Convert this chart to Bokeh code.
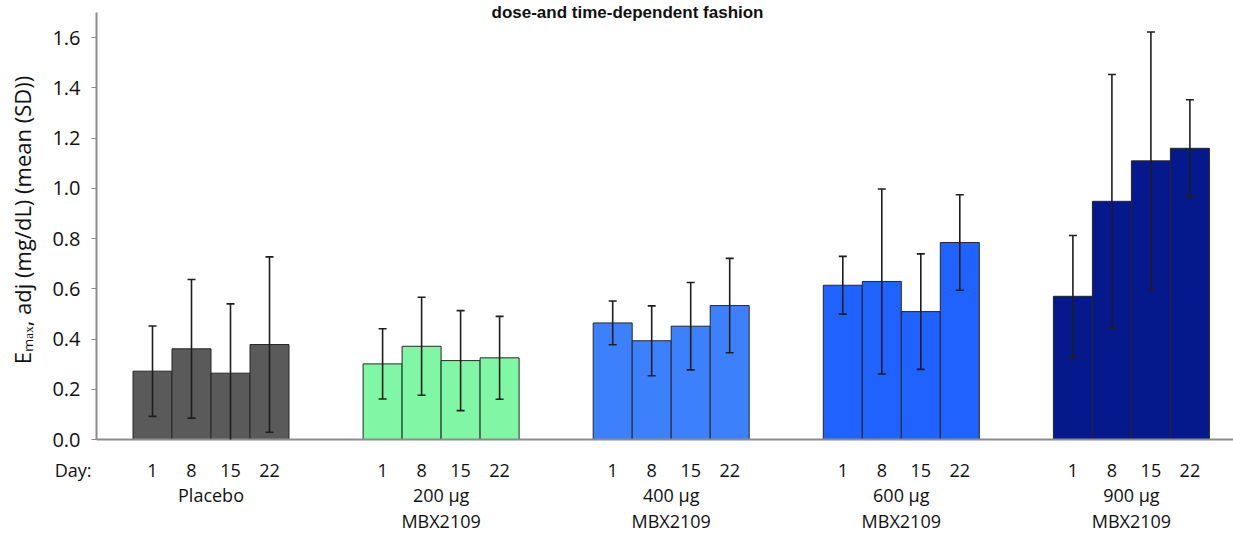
from bokeh.plotting import figure
from bokeh.models import (ColumnDataSource, FixedTicker, LinearAxis, Whisker, TeeHead,
                          Label, Range1d, PrintfTickFormatter)
from bokeh.embed import file_html
from bokeh.resources import INLINE

# ---------------- data ----------------
groups = ["Placebo", "200 µg", "400 µg", "600 µg", "900 µg"]
group_line2 = ["", "MBX2109", "MBX2109", "MBX2109", "MBX2109"]
days = [1, 8, 15, 22]
group_colors = ["#5a5a5a", "#80f7a5", "#3d80fb", "#1f62fe", "#06198c"]

placebo_mean = [0.272, 0.361, 0.264, 0.378]
placebo_sd = [0.180, 0.276, 0.276, 0.349]
d200_mean = [0.301, 0.371, 0.314, 0.325]
d200_sd = [0.140, 0.195, 0.199, 0.165]
d400_mean = [0.464, 0.393, 0.451, 0.533]
d400_sd = [0.087, 0.139, 0.174, 0.188]
d600_mean = [0.614, 0.629, 0.509, 0.784]
d600_sd = [0.115, 0.368, 0.230, 0.190]
d900_mean = [0.570, 0.948, 1.109, 1.159]
d900_sd = [0.242, 0.505, 0.513, 0.193]

title_text = "dose-and time-dependent fashion"
day_prefix = "Day:"
y_label = "Eₘₐₓ, adj (mg/dL) (mean (SD))"
y_ticks = [0.0, 0.2, 0.4, 0.6, 0.8, 1.0, 1.2, 1.4, 1.6]

# ---------------- layout helpers ----------------
BAR_W = 10          # bar width in x units
STRIDE = 59         # distance between groups in x units
X_START, X_END = -14.36, 277.18
Y_END = 1.7473      # frame reaches the top edge of the canvas
Y_AXIS_TOP = 1.70   # y axis line stops here
means = [placebo_mean, d200_mean, d400_mean, d600_mean, d900_mean]
sds = [placebo_sd, d200_sd, d400_sd, d600_sd, d900_sd]

xs, tops, lows, ups, cols, day_lab = [], [], [], [], [], []
for g in range(len(groups)):
    for d in range(len(days)):
        x = g * STRIDE + d * BAR_W
        m, s = means[g][d], sds[g][d]
        xs.append(x)
        tops.append(m)
        lows.append(m - s)
        ups.append(m + s)
        cols.append(group_colors[g])
        day_lab.append(str(days[d]))

src = ColumnDataSource(dict(x=xs, top=tops, lower=lows, upper=ups, color=cols))
group_centers = [g * STRIDE + 15 for g in range(len(groups))]

FONT = "Open Sans"
TXT = "#111111"
AXIS_GREY = "#8c8c8c"

p = figure(width=1233, height=536, output_backend="svg", toolbar_location=None,
           x_range=Range1d(X_START, X_END), y_range=Range1d(0, Y_END),
           min_border_left=96, min_border_right=0, min_border_top=0, min_border_bottom=97,
           x_axis_location=None)
p.outline_line_color = None
p.xgrid.grid_line_color = None
p.ygrid.grid_line_color = None
p.background_fill_color = "white"
p.border_fill_color = "white"

p.vbar(x="x", top="top", width=BAR_W, bottom=0, source=src, fill_color="color",
       line_color="#262626", line_width=1)

wh = Whisker(base="x", upper="upper", lower="lower", source=src,
             line_color="#1e1e1e", line_width=1.6, level="annotation",
             upper_head=TeeHead(size=8, line_color="#1e1e1e", line_width=1.6),
             lower_head=TeeHead(size=8, line_color="#1e1e1e", line_width=1.6))
p.add_layout(wh)

# y axis
ya = p.yaxis[0]
ya.ticker = FixedTicker(ticks=y_ticks)
ya.bounds = (0, Y_AXIS_TOP)
ya.formatter = PrintfTickFormatter(format="%.1f")
ya.minor_tick_line_color = None
ya.major_tick_in = 0
ya.major_tick_out = 5
ya.major_tick_line_color = AXIS_GREY
ya.axis_line_color = AXIS_GREY
ya.axis_line_width = 2
ya.major_label_text_font = FONT
ya.major_label_text_font_size = "20px"
ya.major_label_text_color = TXT
ya.major_label_standoff = 11
ya.axis_label = y_label
ya.axis_label_text_font = FONT
ya.axis_label_text_font_size = "22px"
ya.axis_label_text_font_style = "normal"
ya.axis_label_text_color = TXT
ya.axis_label_standoff = 12

def make_xaxis(ticks, labels, line, standoff):
    ax = LinearAxis(ticker=FixedTicker(ticks=ticks),
                    major_label_overrides={t: l for t, l in zip(ticks, labels)})
    ax.major_tick_line_color = None
    ax.minor_tick_line_color = None
    ax.major_tick_out = 0
    ax.major_tick_in = 0
    ax.major_label_standoff = standoff
    ax.major_label_text_font = FONT
    ax.major_label_text_font_size = "18px"
    ax.major_label_text_color = TXT
    if line:
        ax.axis_line_color = AXIS_GREY
        ax.axis_line_width = 2
    else:
        ax.axis_line_color = None
    p.add_layout(ax, "below")
    return ax

# first row: "Day:" sits at the left edge of the axis, then the day numbers
day_tick_left = X_START + 0.01
pad = "\u00a0" * 10
make_xaxis([day_tick_left] + xs, [day_prefix + pad] + day_lab, True, 18)
make_xaxis(group_centers, groups, False, -2)
make_xaxis(group_centers, group_line2, False, -1)

# title at the very top, kept fully inside the picture
p.add_layout(Label(x=531, y=437, x_units="screen", y_units="screen", text=title_text,
                   text_font="Liberation Sans", text_font_style="bold",
                   text_font_size="17px", text_color="#111111",
                   text_baseline="top", text_align="center", level="overlay"))

open("out.html", "w").write(file_html(p, INLINE))
